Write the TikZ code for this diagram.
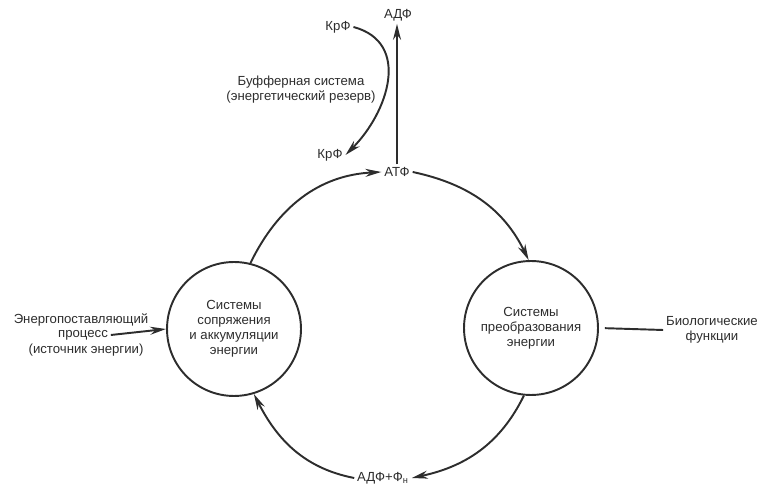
\documentclass[tikz,border=0pt]{standalone}
\usepackage{fontspec}
\setmainfont{Liberation Sans}
\usetikzlibrary{arrows.meta,positioning}
\definecolor{inkcolor}{RGB}{45,45,45}
\newcommand{\lblfont}{\fontsize{7.5}{8.6}\selectfont}
\tikzset{
  sysnode/.style={circle, draw=inkcolor, line width=1.1pt, minimum size=2.68cm,
    inner sep=0pt, align=center, font=\lblfont, text=inkcolor},
  lbl/.style={font=\lblfont, text=inkcolor, inner sep=1.5pt, align=center},
  flowln/.style={-{Stealth[length=3.2mm,width=1.6mm]}, line width=1.1pt, inkcolor},
  plainln/.style={line width=1.1pt, inkcolor},
}

\begin{document}
\begin{tikzpicture}[x=0.02cm, y=0.02cm]
    \useasboundingbox (0,0) rectangle (768,490);
    % the two systems
    \node[sysnode] (lc) at (234,161) {Системы\\сопряжения\\и аккумуляции\\энергии};
    \node[sysnode] (rc) at (531,162) {Системы\\преобразования\\энергии};
    % carriers and the buffer
    \node[lbl] (atf) at (397,318) {АТФ};
    \node[lbl] (adfp) at (383,12) {АДФ+Ф\textsubscript{н}};
    \node[lbl] (adf) at (398,475) {АДФ};
    \node[lbl] (krfa) at (338,463) {КрФ};
    \node[lbl] (krfb) at (330,335) {КрФ};
    \node[lbl] (buf) at (301,400) {Буфферная система\\(энергетический резерв)};
    % source and output
    \node[lbl] (src1) at (81,170) {Энергопоставляющий};
    \node[lbl] (src2) at (83,155) {процесс};
    \node[lbl] (src3) at (86,140) {(источник энергии)};
    \node[lbl] (bio) at (712,160) {Биологические\\функции};
    % the cycle
    \draw[flowln] (lc.76) to[out=64, in=183] (atf.west);
    \draw[flowln] (atf.east) to[out=-12, in=116] (rc.92);
    \draw[flowln] (rc.264) to[out=244, in=12] (adfp.east);
    \draw[flowln] (adfp.west) to[out=169, in=-63] (lc.287);
    \draw[flowln] (atf.north) -- (atf.north |- adf.south);
    \draw[flowln] (krfa.east) to[out=-15, in=45, looseness=1.2] (krfb.east);
    \draw[flowln] (src2.east) -- (lc.west);
    \draw[plainln, shorten <=0.12cm] (rc.east) -- (bio.west);
\end{tikzpicture}
\end{document}
